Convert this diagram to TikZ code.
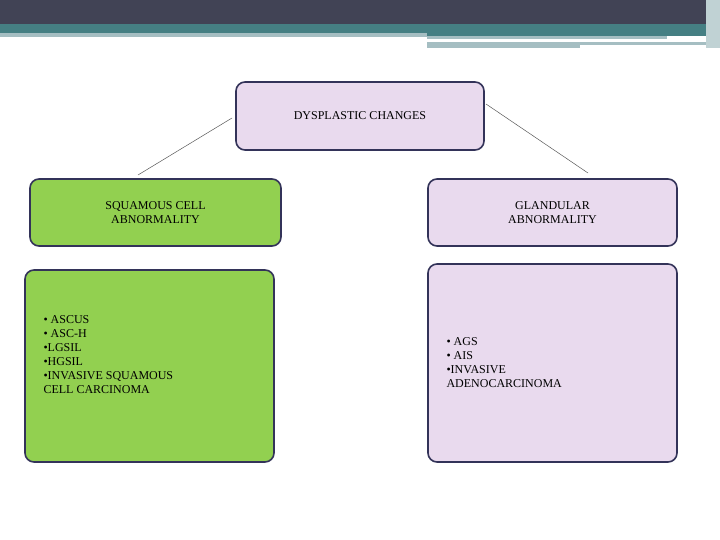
\documentclass[tikz,border=0pt]{standalone}
\usepackage{fontspec}
\setmainfont{Liberation Serif}
\begin{document}
\begin{tikzpicture}[x=1pt,y=-1pt,
  box/.style={draw=black!75!blue!60!gray,line width=1.6pt,rounded corners=9pt},
  lav/.style={box,fill=lavfill},
  grn/.style={box,fill=grnfill},
  txt/.style={font=\fontsize{12}{14}\selectfont,align=center}]
\definecolor{lavfill}{HTML}{E9DAEE}
\definecolor{grnfill}{HTML}{92D050}
\definecolor{dark}{HTML}{414355}
\definecolor{teal}{HTML}{457F83}
\definecolor{pale}{HTML}{A5BEC2}
\useasboundingbox (0,0) rectangle (720,540);
\fill[white] (0,0) rectangle (720,540);
\fill[dark] (0,0) rectangle (720,24);
\fill[teal] (0,24) rectangle (720,33);
\fill[teal] (427,33) rectangle (720,36);
\fill[pale] (0,33) rectangle (427,37);
\fill[pale] (427,36) rectangle (667,39);
\fill[pale] (427,42) rectangle (580,48);
\fill[pale] (580,42) rectangle (706,45);
\fill[pale!70] (706,0) rectangle (720,48);
\node[lav,minimum width=248,minimum height=68,txt] (top) at (360,116) {DYSPLASTIC CHANGES};
\node[grn,minimum width=251,minimum height=67,txt] (sq) at (155.5,212.5) {SQUAMOUS CELL\\ABNORMALITY};
\node[lav,minimum width=249,minimum height=67,txt] (gl) at (552.5,212.5) {GLANDULAR\\ABNORMALITY};
\node[grn,minimum width=249,minimum height=192] (sql) at (149.5,366) {};
\node[txt,align=left,anchor=west] (sqt) at (40,355) {• ASCUS\\• ASC-H\\•LGSIL\\•HGSIL\\•INVASIVE SQUAMOUS\\CELL CARCINOMA};
\node[lav,minimum width=249,minimum height=198] (gll) at (552.5,363) {};
\node[txt,align=left,anchor=west] (glt) at (443,363) {• AGS\\• AIS\\•INVASIVE\\ADENOCARCINOMA};
\coordinate (l1) at (232,118); \coordinate (l2) at (138,175);
\coordinate (r1) at (486,104); \coordinate (r2) at (588,173);
\draw[gray!70!black,line width=0.5pt] (l1) -- (l2);
\draw[gray!70!black,line width=0.5pt] (r1) -- (r2);
\end{tikzpicture}
\end{document}
